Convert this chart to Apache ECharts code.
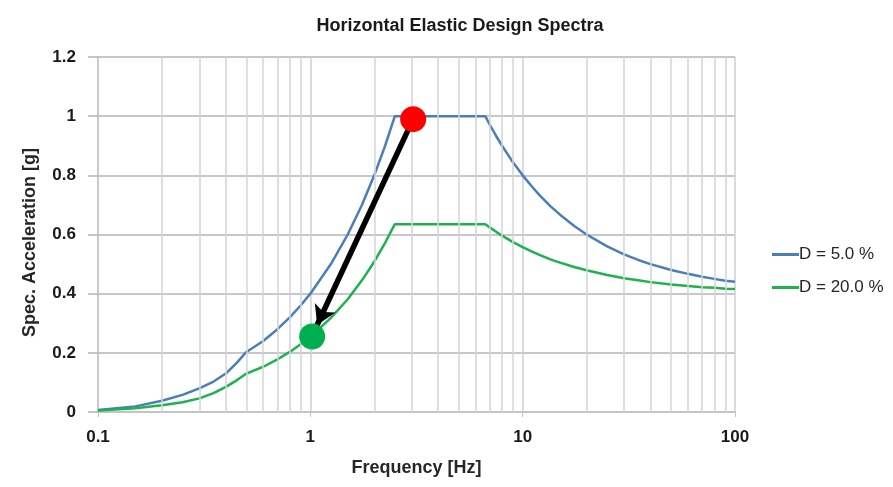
<!DOCTYPE html>
<html>
<head>
<meta charset="utf-8">
<script src="https://cdn.jsdelivr.net/npm/echarts@6/dist/echarts.min.js"></script>
<style>
  html, body { margin: 0; padding: 0; background: #fff; }
  #spectra { width: 893px; height: 487px; }
</style>
</head>
<body>
<div id="spectra"></div>
<script>
const FONT = "'Liberation Sans', Arial, sans-serif";

const freq = [0.1, 0.15, 0.2, 0.25, 0.3, 0.35, 0.4, 0.45, 0.5, 0.6, 0.7, 0.8, 0.9, 1.0,
  1.25, 1.5, 1.75, 2.0, 2.25, 2.5, 6.67, 7, 7.5, 8, 9, 10, 11, 12, 13.5, 15, 17.5, 20,
  25, 30, 35, 40, 50, 60, 70, 80, 90, 100];
const accD5 = [0.007, 0.019, 0.038, 0.058, 0.08, 0.103, 0.13, 0.166, 0.203, 0.24, 0.28, 0.32, 0.36, 0.4,
  0.5, 0.6, 0.7, 0.8, 0.9, 1.0, 1.0, 0.971, 0.933, 0.9, 0.844, 0.8, 0.764, 0.733, 0.696, 0.667, 0.629, 0.6,
  0.56, 0.533, 0.514, 0.5, 0.48, 0.467, 0.457, 0.45, 0.444, 0.44];
const accD20 = [0.005, 0.013, 0.023, 0.033, 0.046, 0.064, 0.085, 0.107, 0.13, 0.153, 0.178, 0.203, 0.229, 0.254,
  0.318, 0.381, 0.445, 0.508, 0.572, 0.635, 0.635, 0.624, 0.609, 0.596, 0.574, 0.557, 0.543, 0.531, 0.516, 0.505, 0.49, 0.479,
  0.463, 0.452, 0.445, 0.439, 0.431, 0.426, 0.422, 0.42, 0.417, 0.416];

// minor vertical grid positions (2..9 of each decade)
const minorTicks = [0.2, 0.3, 0.4, 0.5, 0.6, 0.7, 0.8, 0.9, 2, 3, 4, 5, 6, 7, 8, 9, 20, 30, 40, 50, 60, 70, 80, 90];

const redPoint = [3.05, 0.99];
const greenPoint = [1.02, 0.255];
const arrowEnd = [1.076, 0.294];

const pair = (xs, ys) => xs.map((x, i) => [x, ys[i]]);

const chart = echarts.init(document.getElementById("spectra"));
const option = {
  animation: false,
  backgroundColor: "#ffffff",
  title: {
    text: "Horizontal Elastic Design Spectra",
    left: 455,
    top: 12,
    textAlign: "center",
    textStyle: { fontFamily: FONT, fontSize: 18, fontWeight: "bold", color: "#1a1a1a" }
  },
  grid: { left: 98, right: 158, top: 57, bottom: 75 },
  legend: {
    orient: "vertical",
    left: 767,
    top: 241,
    itemWidth: 27,
    itemHeight: 3,
    itemGap: 16,
    icon: "rect",
    textStyle: { fontFamily: FONT, fontSize: 17, color: "#262626", padding: [0, 0, 0, -5] },
    data: ["D = 5.0 %", "D = 20.0 %"]
  },
  xAxis: {
    type: "log",
    logBase: 10,
    min: 0.1,
    max: 100,
    name: "Frequency [Hz]",
    nameLocation: "middle",
    nameGap: 47,
    nameTextStyle: { fontFamily: FONT, fontSize: 18, fontWeight: "bold", color: "#262626" },
    axisLine: { show: true, lineStyle: { color: "#c4c4c4", width: 1.5 } },
    axisTick: { show: true, length: 5, lineStyle: { color: "#c4c4c4" } },
    axisLabel: {
      fontFamily: FONT, fontSize: 17, fontWeight: "bold", color: "#1a1a1a", margin: 17,
      formatter: v => String(v)
    },
    splitLine: { show: true, lineStyle: { color: "#cfcfcf", width: 1.5 } }
  },
  yAxis: {
    type: "value",
    min: 0,
    max: 1.2,
    interval: 0.2,
    name: "Spec. Acceleration [g]",
    nameLocation: "middle",
    nameGap: 59,
    nameTextStyle: { fontFamily: FONT, fontSize: 18, fontWeight: "bold", color: "#262626", padding: [0, 16, 0, 0] },
    axisLine: { show: true, lineStyle: { color: "#c4c4c4", width: 1.5 } },
    axisTick: { show: true, length: 10, lineStyle: { color: "#b4b4b4", width: 1.5 } },
    axisLabel: { fontFamily: FONT, fontSize: 17, fontWeight: "bold", color: "#1a1a1a", margin: 22 },
    splitLine: { show: true, lineStyle: { color: "#b4b4b4", width: 1.5 } }
  },
  series: [
    {
      name: "grid-minor",
      type: "line",
      data: [],
      silent: true,
      markLine: {
        silent: true,
        symbol: ["none", "none"],
        label: { show: false },
        lineStyle: { color: "#d4d4d4", width: 1.5, type: "solid" },
        data: minorTicks.map(v => ({ xAxis: v }))
      },
      z: 1
    },
    {
      name: "D = 5.0 %",
      type: "line",
      symbol: "none",
      lineStyle: { color: "#4a7ebb", width: 2.5 },
      itemStyle: { color: "#4a7ebb" },
      data: pair(freq, accD5),
      z: 3
    },
    {
      name: "D = 20.0 %",
      type: "line",
      symbol: "none",
      lineStyle: { color: "#1db24c", width: 2.5 },
      itemStyle: { color: "#1db24c" },
      data: pair(freq, accD20),
      z: 3
    },
    {
      name: "arrow",
      type: "line",
      data: [],
      silent: true,
      markLine: {
        silent: true,
        symbol: ["none", "arrow"],
        symbolSize: [17, 19],
        label: { show: false },
        lineStyle: { color: "#000000", width: 5.5, type: "solid" },
        data: [[{ coord: redPoint }, { coord: arrowEnd }]]
      },
      z: 4
    },
    {
      name: "points",
      type: "scatter",
      symbolSize: 26,
      silent: true,
      data: [
        { value: redPoint, itemStyle: { color: "#ff0000", opacity: 1 } },
        { value: greenPoint, itemStyle: { color: "#00b050", opacity: 1 } }
      ],
      z: 5
    }
  ]
};
chart.setOption(option);
</script>
</body>
</html>
